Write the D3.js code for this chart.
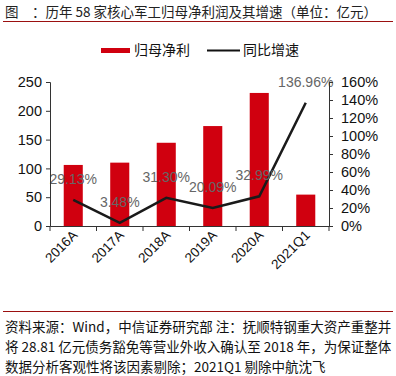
<!DOCTYPE html>
<html>
<head>
<meta charset="utf-8">
<script src="https://cdn.jsdelivr.net/npm/d3@7"></script>
<style>
  body { margin: 0; background: #fff; }
  svg { display: block; font-family: "Liberation Sans", Arial, "Noto Sans CJK SC", sans-serif; }
  .cjk { font-family: "Noto Sans CJK SC", sans-serif; }
</style>
</head>
<body>
<svg id="chart" width="396" height="376"></svg>
<script>
const categories = ['2016A', '2017A', '2018A', '2019A', '2020A', '2021Q1'];
const profit = [106, 110, 144.5, 173.5, 231, 54.5];
const growth = [0.2913, 0.0348, 0.3130, 0.2009, 0.3299, 1.3696];
const growthLabels = ['29.13%', '3.48%', '31.30%', '20.09%', '32.99%', '136.96%'];
const leftTicks = [0, 50, 100, 150, 200, 250];
const rightTicks = [0, 0.2, 0.4, 0.6, 0.8, 1.0, 1.2, 1.4, 1.6];

const svg = d3.select('#chart');
const red = '#d0000f';

// title
svg.append('text').attr('class', 'cjk')
  .attr('x', 5).attr('y', 17)
  .attr('font-size', 13.5).attr('fill', '#222')
  .text('图　：历年 58 家核心军工归母净利润及其增速（单位：亿元）');
svg.append('line')
  .attr('x1', 3).attr('x2', 393).attr('y1', 21.5).attr('y2', 21.5)
  .attr('stroke', '#9b1010').attr('stroke-width', 1);

// legend
svg.append('rect').attr('x', 101).attr('y', 48).attr('width', 29).attr('height', 5).attr('fill', red);
svg.append('text').attr('class', 'cjk').attr('x', 134).attr('y', 55)
  .attr('font-size', 14).attr('fill', '#111').text('归母净利');
svg.append('line').attr('x1', 207).attr('x2', 240).attr('y1', 50.5).attr('y2', 50.5)
  .attr('stroke', '#111').attr('stroke-width', 2);
svg.append('text').attr('class', 'cjk').attr('x', 243).attr('y', 55)
  .attr('font-size', 14).attr('fill', '#111').text('同比增速');

const x = d3.scaleBand().domain(categories).range([50, 329]).padding(0);
const yL = d3.scaleLinear().domain([0, 250]).range([226, 82]);
const yR = d3.scaleLinear().domain([0, 1.6]).range([226, 82]);
const bw = x.step() * 0.41;

// bars
svg.append('g').selectAll('rect')
  .data(categories)
  .join('rect')
  .attr('x', d => x(d) + (x.step() - bw) / 2)
  .attr('width', bw)
  .attr('y', (d, i) => yL(profit[i]))
  .attr('height', (d, i) => 226 - yL(profit[i]))
  .attr('fill', red);

// growth line
const line = d3.line()
  .x((d, i) => x(categories[i]) + x.step() / 2)
  .y(d => yR(d));
svg.append('path')
  .datum(growth)
  .attr('d', line)
  .attr('fill', 'none')
  .attr('stroke', '#1a1a1a')
  .attr('stroke-width', 2.5);

// data labels
svg.append('g').selectAll('text')
  .data(growth)
  .join('text')
  .attr('x', (d, i) => x(categories[i]) + x.step() / 2)
  .attr('y', d => yR(d) - 16)
  .attr('text-anchor', 'middle')
  .attr('font-size', 14)
  .attr('fill', '#666')
  .text((d, i) => growthLabels[i]);

// axes
const axL = svg.append('g').attr('transform', 'translate(50,0)')
  .call(d3.axisLeft(yL).tickValues(leftTicks).tickSize(4).tickPadding(4));
const axR = svg.append('g').attr('transform', 'translate(329,0)')
  .call(d3.axisRight(yR).tickValues(rightTicks).tickSize(4).tickPadding(8)
    .tickFormat(d3.format('.0%')));
const axB = svg.append('g').attr('transform', 'translate(0,226)')
  .call(d3.axisBottom(x).tickSize(0).tickFormat(''));

[axL, axR].forEach(a => {
  a.selectAll('text').attr('font-size', 14.5).attr('fill', '#111')
    .attr('font-family', '"Liberation Sans", Arial, sans-serif');
});
[axL, axR, axB].forEach(a => {
  a.select('.domain').attr('stroke', '#333');
  a.selectAll('.tick line').attr('stroke', '#333');
});

// x boundary ticks
svg.append('g').selectAll('line')
  .data(d3.range(categories.length + 1))
  .join('line')
  .attr('x1', i => 50 + i * x.step()).attr('x2', i => 50 + i * x.step())
  .attr('y1', 226).attr('y2', 231)
  .attr('stroke', '#333');

// x labels rotated
svg.append('g').selectAll('text')
  .data(categories)
  .join('text')
  .attr('transform', d => `translate(${x(d) + x.step() / 2 + 5},${236}) rotate(-45)`)
  .attr('text-anchor', 'end')
  .attr('font-size', 13.5)
  .attr('fill', '#111')
  .text(d => d);

// footer
svg.append('line')
  .attr('x1', 3).attr('x2', 393).attr('y1', 311.5).attr('y2', 311.5)
  .attr('stroke', '#9b1010').attr('stroke-width', 1);
const notes = [
  '资料来源：Wind，中信证券研究部  注：抚顺特钢重大资产重整并',
  '将 28.81 亿元债务豁免等营业外收入确认至 2018 年，为保证整体',
  '数据分析客观性将该因素剔除；2021Q1 剔除中航沈飞'
];
svg.append('g').selectAll('text')
  .data(notes)
  .join('text')
  .attr('class', 'cjk')
  .attr('x', 5)
  .attr('y', (d, i) => 332 + i * 20)
  .attr('font-size', 13.5)
  .attr('fill', '#111')
  .text(d => d);
</script>
</body>
</html>
